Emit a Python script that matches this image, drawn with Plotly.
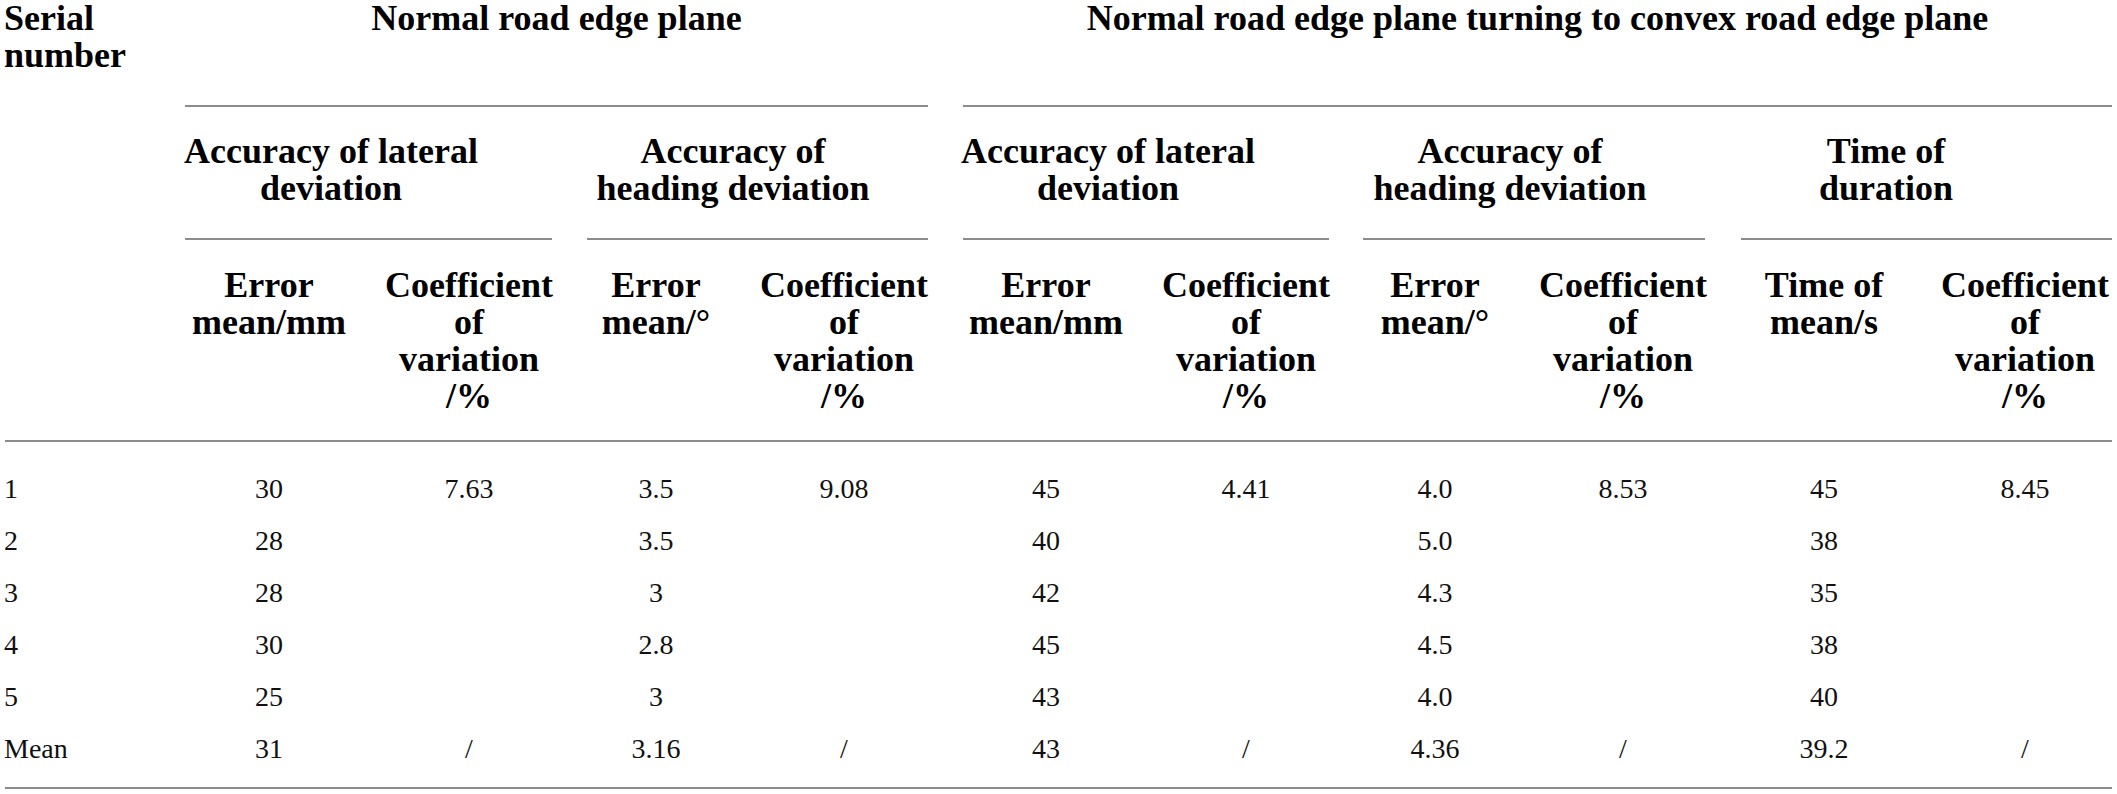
import plotly.graph_objects as go

# table values, kept as text so "4.0" and "3" look like the source
serial = ["1", "2", "3", "4", "5", "Mean"]
lat_err_normal = ["30", "28", "28", "30", "25", "31"]
lat_cv_normal = ["7.63", "", "", "", "", "/"]
head_err_normal = ["3.5", "3.5", "3", "2.8", "3", "3.16"]
head_cv_normal = ["9.08", "", "", "", "", "/"]
lat_err_convex = ["45", "40", "42", "45", "43", "43"]
lat_cv_convex = ["4.41", "", "", "", "", "/"]
head_err_convex = ["4.0", "5.0", "4.3", "4.5", "4.0", "4.36"]
head_cv_convex = ["8.53", "", "", "", "", "/"]
time_mean = ["45", "38", "35", "38", "40", "39.2"]
time_cv = ["8.45", "", "", "", "", "/"]

# header labels
serial_label = "Serial<br>number"
group_labels = ["Normal road edge plane",
                "Normal road edge plane turning to convex road edge plane"]
sub_labels = ["Accuracy of lateral<br>deviation", "Accuracy of<br>heading deviation",
              "Accuracy of lateral<br>deviation", "Accuracy of<br>heading deviation",
              "Time of<br>duration"]
col_labels = ["Error<br>mean/mm", "Coefficient<br>of<br>variation<br>/%",
              "Error<br>mean/°", "Coefficient<br>of<br>variation<br>/%",
              "Error<br>mean/mm", "Coefficient<br>of<br>variation<br>/%",
              "Error<br>mean/°", "Coefficient<br>of<br>variation<br>/%",
              "Time of<br>mean/s", "Coefficient<br>of<br>variation<br>/%"]

value_cols = [lat_err_normal, lat_cv_normal, head_err_normal, head_cv_normal,
              lat_err_convex, lat_cv_convex, head_err_convex, head_cv_convex,
              time_mean, time_cv]

# layout (pixel grid of the page)
W, H = 2117, 794
left_x = 4
col_x = [269, 469, 656, 844, 1046, 1246, 1435, 1623, 1824, 2025]
group_spans = [(185, 928), (963, 2112)]
sub_spans = [(185, 552), (587, 928), (963, 1329), (1363, 1705), (1741, 2112)]
sub_x = [331, 733, 1108, 1510, 1886]
row_y = [491, 543, 595, 647, 699, 751]
head_line_y = [21, 58]
sub_line_y = [154, 191]
col_line_y = [288, 325, 362, 399]
rule_y = [106, 239, 441, 788]

HEAD_FONT = dict(family="Liberation Serif", size=36, color="black", weight="bold")
BODY_FONT = dict(family="Liberation Serif", size=28, color="#111111")
RULE = dict(color="#8c8c8c", width=2)

hx, hy, ht, hpos = [], [], [], []


def add_lines(label, x, ys, pos="middle center"):
    for line, y in zip(label.split("<br>"), ys):
        hx.append(x)
        hy.append(y)
        ht.append(line)
        hpos.append(pos)


add_lines(serial_label, left_x, head_line_y, "middle right")
for lab, (a, b) in zip(group_labels, group_spans):
    add_lines(lab, (a + b) / 2, head_line_y)
for lab, x in zip(sub_labels, sub_x):
    add_lines(lab, x, sub_line_y)
for lab, x in zip(col_labels, col_x):
    add_lines(lab, x, col_line_y)

fig = go.Figure()
fig.add_trace(go.Scatter(x=hx, y=hy, text=ht, mode="text", textposition=hpos,
                         textfont=HEAD_FONT, hoverinfo="skip", showlegend=False))

# body cells
bx, by, bt, bpos = [], [], [], []
for i, s in enumerate(serial):
    bx.append(left_x)
    by.append(row_y[i])
    bt.append(s)
    bpos.append("middle right")
for col, x in zip(value_cols, col_x):
    for i, v in enumerate(col):
        if v:
            bx.append(x)
            by.append(row_y[i])
            bt.append(v)
            bpos.append("middle center")
fig.add_trace(go.Scatter(x=bx, y=by, text=bt, mode="text", textposition=bpos,
                         textfont=BODY_FONT, hoverinfo="skip", showlegend=False))

# horizontal rules
for a, b in group_spans:
    fig.add_shape(type="line", x0=a, x1=b, y0=rule_y[0], y1=rule_y[0], line=RULE)
for a, b in sub_spans:
    fig.add_shape(type="line", x0=a, x1=b, y0=rule_y[1], y1=rule_y[1], line=RULE)
for y in rule_y[2:]:
    fig.add_shape(type="line", x0=5, x1=2112, y0=y, y1=y, line=RULE)

fig.update_layout(width=W, height=H, margin=dict(l=0, r=0, t=0, b=0),
                  plot_bgcolor="white", paper_bgcolor="white",
                  xaxis=dict(range=[0, W], visible=False, fixedrange=True),
                  yaxis=dict(range=[H, 0], visible=False, fixedrange=True))

fig.write_html("out.html", config={"displayModeBar": False},
               post_script="document.body.style.margin='0';"
                           "document.body.style.overflow='hidden';")
